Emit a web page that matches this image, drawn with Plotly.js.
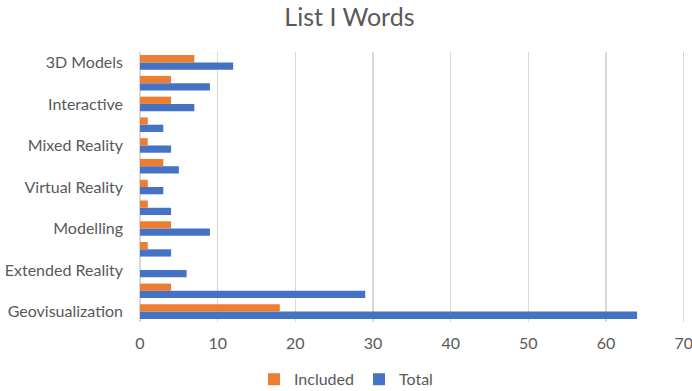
<!DOCTYPE html>
<html>
<head>
<meta charset="utf-8">
<script src="https://cdn.plot.ly/plotly-3.0.1.min.js"></script>
<style>html,body{margin:0;padding:0;background:#fff;}</style>
</head>
<body>
<div id="chart" style="width:692px;height:391px;"></div>
<script>
// Categories listed bottom-to-top
const categories = [
  "Geovisualization", "Augmented Reality", "Extended Reality", "Simulation",
  "Modelling", "Visualization", "Virtual Reality", "Immersive",
  "Mixed Reality", "Holographic", "Interactive", "3D Visualization", "3D Models"
];
const shownLabels = ["Geovisualization", "Extended Reality", "Modelling", "Virtual Reality", "Mixed Reality", "Interactive", "3D Models"];
const includedValues = [18, 4, 0, 1, 4, 1, 1, 3, 1, 1, 4, 4, 7];
const totalValues    = [64, 29, 6, 4, 9, 4, 3, 5, 4, 3, 7, 9, 12];
const xTicks = [0, 10, 20, 30, 40, 50, 60, 70];

const font = "Lato, 'Open Sans', sans-serif";
const traces = [
  {type: "bar", orientation: "h", name: "Total", y: categories, x: totalValues,
   marker: {color: "#4472C4"}},
  {type: "bar", orientation: "h", name: "Included", y: categories, x: includedValues,
   marker: {color: "#ED7D31"}}
];
const layout = {
  width: 692, height: 391,
  margin: {l: 140, r: 6, t: 52, b: 69, autoexpand: false},
  paper_bgcolor: "#fff", plot_bgcolor: "#fff",
  font: {family: font, color: "#595959", size: 16},
  title: {text: "List I Words", x: 0.505, xanchor: "center", xref: "container",
          y: 0.955, yanchor: "middle", yref: "container",
          font: {family: font, size: 25, color: "#595959"}},
  barmode: "group", bargap: 0.3, bargroupgap: 0,
  xaxis: {range: [0, 70.3], tickvals: xTicks, showgrid: true, gridcolor: "#d9d9d9", gridwidth: 1.5,
          zeroline: true, zerolinecolor: "#d9d9d9", zerolinewidth: 1.5,
          showline: false, ticks: "", ticklabelstandoff: 10,
          ticklabeloverflow: "allow",
          tickfont: {size: 16, color: "#595959"}, fixedrange: true},
  yaxis: {type: "category", categoryorder: "array", categoryarray: categories,
          tickvals: shownLabels, ticktext: shownLabels, showgrid: false, zeroline: false,
          showline: false, ticks: "", ticklabelstandoff: 16,
          tickfont: {size: 16, color: "#595959"}, fixedrange: true},
  showlegend: true,
  legend: {orientation: "h", x: 0.5, xanchor: "center", xref: "container",
           y: 0.03, yanchor: "middle", yref: "container",
           traceorder: "reversed", font: {size: 16, color: "#595959"}, itemwidth: 30}
};
Plotly.newPlot("chart", traces, layout, {displayModeBar: false, staticPlot: true});
</script>
</body>
</html>
